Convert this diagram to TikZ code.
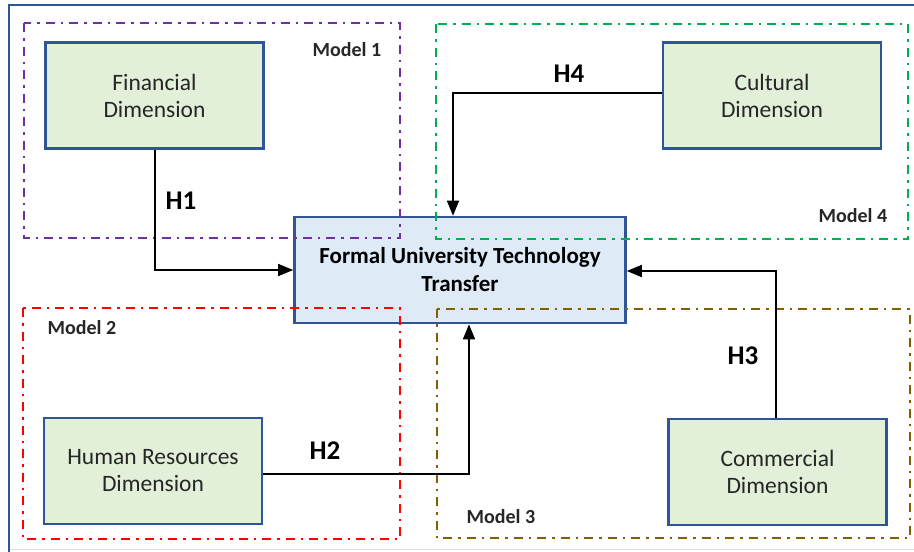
\documentclass[tikz,border=0pt]{standalone}
\usepackage{fontspec}
\setmainfont{Carlito}
\usetikzlibrary{arrows.meta}
\definecolor{boxblue}{HTML}{2F5597}
\definecolor{dimfill}{HTML}{E2F0D9}
\definecolor{ctrfill}{HTML}{DEEBF7}
\definecolor{mpurple}{HTML}{7030A0}
\definecolor{mgreen}{HTML}{00B050}
\definecolor{mred}{HTML}{FF0000}
\definecolor{mbrown}{HTML}{806000}
\definecolor{txtgray}{HTML}{262626}
\begin{document}
\begin{tikzpicture}[x=1pt,y=-1pt,
  dimbox/.style={draw=boxblue,line width=2.6pt,fill=dimfill,minimum width=218pt,minimum height=106pt,
    align=center,font=\fontsize{23.5}{27}\selectfont,text=txtgray,inner sep=0pt},
  ctrbox/.style={draw=boxblue,line width=2.6pt,fill=ctrfill,minimum width=331pt,minimum height=106pt,
    align=center,font=\fontsize{23}{28}\selectfont\bfseries,inner sep=0pt},
  modelframe/.style={line width=2.6pt,dash pattern=on 9pt off 6pt on 2.5pt off 6pt},
  modellabel/.style={font=\fontsize{20}{22}\selectfont\bfseries,text=txtgray,inner sep=0pt},
  hlabel/.style={font=\fontsize{27}{30}\selectfont\bfseries,inner sep=0pt},
  conn/.style={line width=1.4pt,-{Triangle[length=15pt,width=12pt]}}]
\useasboundingbox (0,0) rectangle (914,552);
% outer frame (top and left visible)
\draw[boxblue,line width=2.8pt] (914,5) -- (9,5) -- (9,552);
\draw[gray!25,line width=1pt] (10,549) -- (914,549);
% nodes
\node[dimbox] (fin) at (154.5,95.5) {Financial\\Dimension};
\node[dimbox] (cul) at (772,95.5) {Cultural\\Dimension};
\node[dimbox] (hr) at (153,471) {Human Resources\\Dimension};
\node[dimbox] (com) at (777.5,472) {Commercial\\Dimension};
\node[ctrbox] (ctr) at (460,270) {Formal University Technology\\Transfer};
% model frames
\draw[modelframe,mpurple] (24,23) rectangle (400,238);
\draw[modelframe,mgreen] (436,24) rectangle (908,239);
\draw[modelframe,mred] (23,308) rectangle (400,539);
\draw[modelframe,mbrown] (437,309) rectangle (910,538);
\node[modellabel] (m1) at (347,50) {Model 1};
\node[modellabel] (m4) at (853,216) {Model 4};
\node[modellabel] (m2) at (82,328) {Model 2};
\node[modellabel] (m3) at (501,517) {Model 3};
% connectors
\coordinate (c1) at (155,270);
\coordinate (c4) at (453,93);
\coordinate (c3) at (776,271);
\coordinate (c2) at (469,474);
\draw[conn] (fin.south -| c1) -- (c1) -- (c1 -| ctr.west);
\draw[conn] (cul.west |- c4) -- (c4) -- (c4 |- ctr.north);
\draw[conn] (com.north -| c3) -- (c3) -- (c3 -| ctr.east);
\draw[conn] (hr.east |- c2) -- (c2) -- (c2 |- ctr.south);
\node[hlabel] (h1) at (181,201) {H1};
\node[hlabel] (h4) at (569,74) {H4};
\node[hlabel] (h3) at (743,356) {H3};
\node[hlabel] (h2) at (325,451) {H2};
\end{tikzpicture}
\end{document}
